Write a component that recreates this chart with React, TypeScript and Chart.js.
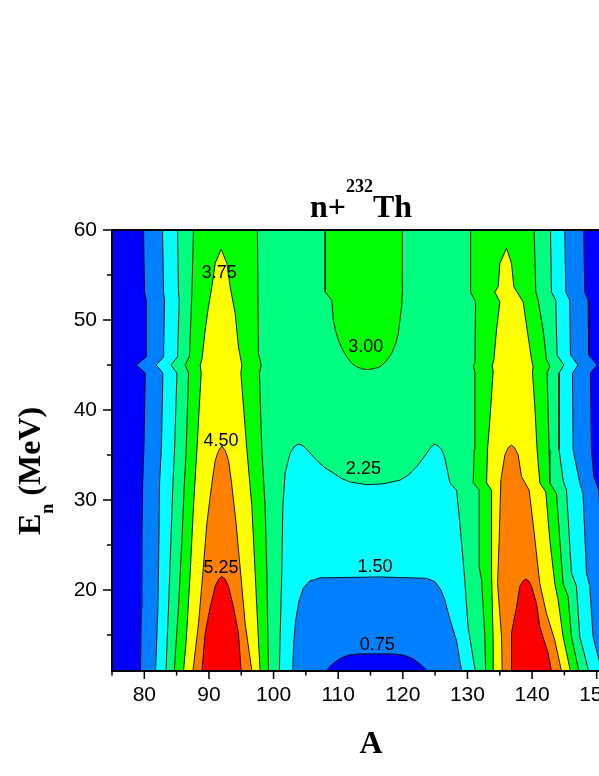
import React, { useEffect, useRef } from 'react';
import { Chart, registerables } from 'chart.js';

Chart.register(...registerables);

type P = [number, number];

// ---------- axis ticks ----------
const X_MAJOR = [80, 90, 100, 110, 120, 130, 140, 150];
const X_MINOR = [75, 85, 95, 105, 115, 125, 135, 145, 155];
const Y_MAJOR = [20, 30, 40, 50, 60];
const Y_MINOR = [15, 25, 35, 45, 55];

// ---------- contour levels and colours ----------
const LEVELS = [0.75, 1.5, 2.25, 3.0, 3.75, 4.5, 5.25];
const BASE_COLOR = '#0000FF';
const LEVEL_COLORS = ['#0080FF', '#00FFFF', '#00FF80', '#00FF00', '#FFFF00', '#FF8000', '#FF0000'];

// ---------- contour lines, [A, En] ----------
// 0.75 level
const c075Left: P[] = [[79.42, 11], [79.53, 18], [79.64, 25.6], [79.75, 31.9], [79.95, 36], [80.15, 44.1], [78.76, 45], [80.3, 45.9], [80.3, 52.2], [80.04, 53.1], [79.88, 60]];
const c075Right: P[] = [[148.0, 60], [148.15, 53.1], [148.67, 52.2], [148.77, 46.1], [150.06, 45], [149.03, 44.1], [149.19, 35.6], [149.55, 32.6], [150.32, 31.1], [151.0, 21.9], [151.5, 14.8], [152.6, 11]];
const c075Mid: P[] = [[108.12, 11], [109.0, 11.7], [110.2, 12.35], [111.5, 12.75], [113.4, 12.9], [118.5, 12.9], [120.2, 12.75], [121.6, 12.35], [122.8, 11.7], [123.84, 11]];
// 1.50 level
const c15Left: P[] = [[81.74, 11], [82.11, 18.1], [82.26, 25.6], [82.36, 31.9], [82.65, 36], [82.88, 44.1], [81.85, 45], [82.98, 45.9], [83.13, 52.2], [82.98, 53.1], [82.82, 60]];
const c15Right: P[] = [[145.06, 60], [145.22, 53.1], [145.83, 52.2], [145.94, 46.1], [147.12, 45], [146.25, 44.1], [146.35, 35.6], [147.38, 31.9], [147.89, 30.7], [148.42, 21.9], [148.93, 20.4], [149.44, 14.8], [150.8, 11]];
const c15Mid: P[] = [[102.97, 11], [103.1, 14], [103.4, 16.5], [103.9, 18.7], [104.6, 20.2], [105.6, 21.0], [107.2, 21.35], [116.5, 21.45], [123.7, 21.3], [125.0, 20.9], [125.9, 20.0], [126.5, 18.9], [127.3, 16.7], [128.3, 14.4], [129.1, 11]];
// 2.25 level
const c225Left: P[] = [[83.35, 11], [83.75, 18.1], [84.12, 25.6], [84.43, 31.9], [84.7, 36], [85.05, 44.1], [84.12, 45], [85.14, 45.9], [85.4, 52.2], [85.29, 53.1], [85.14, 60]];
const c225Right: P[] = [[142.85, 60], [143.0, 53.1], [143.67, 52.2], [143.87, 46.1], [144.91, 45], [144.18, 44.1], [144.18, 35.6], [144.8, 32.2], [145.32, 31.1], [146.1, 21.9], [146.87, 20.4], [147.38, 14.8], [148.77, 11]];
const c225Mid: P[] = [[100.91, 11], [101.0, 14.4], [101.27, 21.9], [101.43, 29.3], [101.79, 33.0], [102.56, 35.2], [103.3, 36.0], [103.84, 36.2], [104.4, 36.1], [104.88, 35.8], [105.8, 35.1], [106.69, 34.4], [107.9, 33.6], [109.25, 33.0], [110.5, 32.4], [111.83, 32.0], [114.41, 31.7], [116.98, 31.8], [119.56, 32.2], [120.9, 32.8], [122.14, 33.7], [123.3, 34.8], [124.2, 35.7], [124.6, 36.05], [124.97, 36.2], [125.5, 36.0], [126.0, 35.6], [126.45, 34.8], [126.78, 33.7], [127.29, 31.9], [128.32, 31.1], [128.83, 27.4], [129.5, 21.9], [130.1, 15.9], [131.2, 11]];
// 3.00 level
const c30LeftPeak: P[] = [[84.63, 11], [85.29, 18.1], [85.82, 25.6], [86.2, 31.9], [86.48, 35.6], [86.84, 44.1], [86.33, 45], [86.99, 46], [87.36, 53.1], [87.61, 60], [97.5, 60], [97.66, 46.3], [98.08, 45], [97.81, 44.1], [98.18, 35.6], [98.69, 29.3], [98.96, 21.9], [99.21, 11]];
const c30RightPeak: P[] = [[132.81, 11], [132.7, 14.8], [132.19, 21.1], [131.82, 22.6], [131.82, 31.1], [130.89, 31.9], [131.04, 35.6], [131.15, 44.2], [130.9, 44.9], [131.15, 45.2], [131.26, 52.0], [130.49, 53.1], [130.49, 60], [140.32, 60], [140.58, 53.1], [140.94, 52.2], [141.71, 48.9], [142.23, 45.6], [142.74, 44.9], [142.33, 44.1], [142.64, 35.6], [142.74, 31.9], [143.78, 30.7], [144.29, 25.6], [144.8, 20.7], [145.57, 19.3], [146.1, 14.8], [147.23, 11]];
const c30Mid: P[] = [[108.0, 60], [108.0, 53.1], [109.0, 52.2], [109.25, 50], [109.6, 48.8], [110.0, 47.8], [110.6, 46.8], [111.32, 45.9], [112.1, 45.2], [112.87, 44.8], [113.8, 44.55], [114.66, 44.5], [115.6, 44.6], [116.47, 44.8], [117.4, 45.4], [118.28, 46.3], [118.9, 47.4], [119.3, 48.5], [119.82, 51.5], [119.98, 53.7], [119.92, 60]];
// 3.75 level
const c375LeftPeak: P[] = [[86.07, 11], [86.48, 14.4], [87.1, 21.9], [87.61, 29.3], [88.14, 35.6], [88.8, 44.1], [88.65, 45], [88.91, 45.6], [89.42, 48.9], [89.93, 51.5], [90.46, 53.7], [90.97, 56.3], [91.89, 57.86], [92.77, 56.3], [93.28, 53.7], [94.06, 50.7], [94.57, 47.0], [95.09, 45], [94.94, 44.1], [95.87, 35.6], [96.64, 29.3], [97.15, 21.9], [97.66, 14.4], [97.92, 11]];
const c375RightPeak: P[] = [[134.09, 11], [133.98, 14.4], [133.73, 21.9], [133.73, 31.1], [132.96, 31.9], [133.11, 35.6], [133.47, 38.9], [133.98, 44.3], [133.83, 44.9], [134.09, 45.6], [134.5, 48.9], [135.02, 52.0], [134.24, 53.1], [134.76, 53.7], [135.02, 56.3], [136.05, 57.97], [136.82, 56.3], [137.18, 53.7], [137.69, 53.1], [138.62, 52.0], [139.24, 48.9], [139.92, 45.6], [140.16, 44.8], [140.07, 44.1], [140.43, 40.4], [140.78, 35.6], [141.2, 31.9], [142.13, 30.9], [142.74, 25.6], [143.52, 20.7], [144.03, 18.9], [144.8, 14.8], [145.94, 11]];
// 4.50 level
const c45LeftPeak: P[] = [[87.52, 11], [88.39, 16.3], [89.06, 21.9], [89.68, 27.4], [90.46, 31.9], [90.97, 34.4], [91.5, 35.5], [92.0, 36.0], [92.5, 35.5], [93.03, 34.4], [93.5, 31.9], [94.2, 27.4], [94.9, 21.9], [95.6, 16.3], [96.64, 11]];
const c45RightPeak: P[] = [[135.37, 11], [135.28, 14.8], [134.66, 20.7], [134.91, 25.6], [135.17, 32.2], [135.79, 35.0], [136.3, 35.8], [136.82, 36.1], [137.3, 35.8], [137.85, 35.0], [138.37, 32.6], [139.54, 31.1], [140.16, 27.4], [141.2, 20.7], [142.23, 17.4], [143.52, 14.4], [144.55, 11]];
// 5.25 level
const c525LeftPeak: P[] = [[88.91, 11], [89.42, 15.2], [90.19, 18.1], [90.97, 20.4], [91.5, 21.2], [92.0, 21.5], [92.5, 21.2], [93.03, 20.4], [93.8, 18.1], [94.57, 15.2], [94.98, 11]];
const c525RightPeak: P[] = [[136.82, 11], [136.82, 15.2], [137.6, 18.1], [138.1, 20.4], [138.6, 21.0], [139.03, 21.2], [139.5, 21.0], [139.92, 20.4], [140.69, 18.5], [141.2, 15.9], [142.48, 13], [143.01, 11]];

// ---------- contour labels ----------
const LABEL_TEXT = ['3.75', '4.50', '5.25', '3.00', '2.25', '1.50', '0.75'];
const LABEL_A = [91.6, 91.85, 91.85, 114.26, 113.9, 115.7, 116.05];
const LABEL_E = [55.2, 36.6, 22.4, 47.0, 33.4, 22.5, 13.9];

const rev = (a: P[]) => [...a].reverse();

const REGIONS: { lvl: number; pts: P[] }[] = [
  { lvl: 0, pts: [...c075Left, ...c075Right, ...rev(c075Mid)] },
  { lvl: 1, pts: [...c15Left, ...c15Right, ...rev(c15Mid)] },
  { lvl: 2, pts: [...c225Left, ...c225Right, ...rev(c225Mid)] },
  { lvl: 3, pts: c30LeftPeak },
  { lvl: 3, pts: c30RightPeak },
  { lvl: 3, pts: c30Mid },
  { lvl: 4, pts: c375LeftPeak },
  { lvl: 4, pts: c375RightPeak },
  { lvl: 5, pts: c45LeftPeak },
  { lvl: 5, pts: c45RightPeak },
  { lvl: 6, pts: c525LeftPeak },
  { lvl: 6, pts: c525RightPeak },
];

const W = 660;
const H = 776;
const PLOT_RIGHT = 629;

const polyFill = {
  id: 'polyFill',
  beforeDatasetsDraw(chart: any) {
    const { ctx, chartArea: a } = chart;
    ctx.save();
    ctx.fillStyle = BASE_COLOR;
    ctx.fillRect(a.left, a.top, a.right - a.left, a.bottom - a.top);
    ctx.restore();
  },
  beforeDatasetDraw(chart: any, args: any) {
    const ds = chart.data.datasets[args.index];
    if (!ds || !ds.polyColor) return;
    const { ctx, chartArea: a } = chart;
    const pts = args.meta.data;
    ctx.save();
    ctx.beginPath();
    ctx.rect(a.left, a.top, a.right - a.left, a.bottom - a.top);
    ctx.clip();
    ctx.beginPath();
    pts.forEach((p: any, i: number) => (i ? ctx.lineTo(p.x, p.y) : ctx.moveTo(p.x, p.y)));
    ctx.closePath();
    ctx.fillStyle = ds.polyColor;
    ctx.fill();
    ctx.restore();
  },
};

const decor = {
  id: 'decor',
  afterDatasetsDraw(chart: any) {
    const { ctx, chartArea: a, scales } = chart;
    const xs = scales.x;
    const ys = scales.y;
    ctx.save();
    // contour labels
    ctx.fillStyle = '#000';
    ctx.font = '18px "Liberation Sans", Arial, sans-serif';
    ctx.textAlign = 'center';
    ctx.textBaseline = 'middle';
    LABEL_TEXT.forEach((t, i) => {
      ctx.fillText(t, xs.getPixelForValue(LABEL_A[i]), ys.getPixelForValue(LABEL_E[i]));
    });
    // frame
    ctx.strokeStyle = '#000';
    ctx.lineWidth = 2;
    ctx.strokeRect(a.left, a.top, a.right - a.left, a.bottom - a.top);
    // tick marks
    ctx.lineWidth = 1.5;
    ctx.beginPath();
    X_MAJOR.forEach((v) => { const px = xs.getPixelForValue(v); ctx.moveTo(px, a.bottom); ctx.lineTo(px, a.bottom + 8); });
    X_MINOR.forEach((v) => { const px = xs.getPixelForValue(v); ctx.moveTo(px, a.bottom); ctx.lineTo(px, a.bottom + 4.5); });
    Y_MAJOR.forEach((v) => { const py = ys.getPixelForValue(v); ctx.moveTo(a.left, py); ctx.lineTo(a.left - 9, py); });
    Y_MINOR.forEach((v) => { const py = ys.getPixelForValue(v); ctx.moveTo(a.left, py); ctx.lineTo(a.left - 5, py); });
    ctx.stroke();
    ctx.restore();
  },
  afterDraw(chart: any) {
    const { ctx } = chart;
    ctx.save();
    ctx.fillStyle = '#000';
    ctx.textBaseline = 'alphabetic';
    ctx.textAlign = 'left';
    const big = 'bold 32px "Liberation Serif", "Times New Roman", serif';
    const sup = 'bold 18px "Liberation Serif", "Times New Roman", serif';
    // title n+232Th
    ctx.font = big;
    const w1 = ctx.measureText('n+').width;
    const w3 = ctx.measureText('Th').width;
    ctx.font = sup;
    const w2 = ctx.measureText('232').width;
    const total = w1 + w2 + w3;
    let x0 = 361 - total / 2;
    ctx.font = big;
    ctx.fillText('n+', x0, 217);
    ctx.font = sup;
    ctx.fillText('232', x0 + w1, 192);
    ctx.font = big;
    ctx.fillText('Th', x0 + w1 + w2, 217);
    // x title
    ctx.textAlign = 'center';
    ctx.fillText('A', 371, 753);
    // y title
    ctx.textAlign = 'left';
    ctx.translate(40, 535);
    ctx.rotate(-Math.PI / 2);
    ctx.font = big;
    const we = ctx.measureText('E').width;
    ctx.fillText('E', 0, 0);
    ctx.font = sup;
    const wn = ctx.measureText('n').width;
    ctx.fillText('n', we, 13);
    ctx.font = big;
    ctx.fillText(' (MeV)', we + wn, 0);
    ctx.restore();
  },
};

export default function App() {
  const ref = useRef<HTMLCanvasElement | null>(null);
  useEffect(() => {
    if (!ref.current) return;
    const datasets = REGIONS.map((r, i) => {
      const pts = [...r.pts, r.pts[0]];
      return {
        label: 'level ' + LEVELS[r.lvl],
        data: pts.map(([x, y]) => ({ x, y })),
        polyColor: LEVEL_COLORS[r.lvl],
        borderColor: '#000',
        borderWidth: 0.9,
        backgroundColor: LEVEL_COLORS[r.lvl],
        pointRadius: 0,
        pointHoverRadius: 0,
        fill: false,
        tension: 0,
        order: REGIONS.length - i,
      };
    });
    const chart = new Chart(ref.current, {
      type: 'line',
      data: { datasets } as any,
      options: {
        animation: false,
        responsive: false,
        devicePixelRatio: 1,
        events: [],
        layout: { padding: { top: 230, right: W - PLOT_RIGHT, left: 0, bottom: 0 } },
        plugins: { legend: { display: false }, tooltip: { enabled: false }, title: { display: false } },
        scales: {
          x: {
            type: 'linear',
            min: 75,
            max: 155,
            grid: { display: false, drawTicks: false },
            border: { display: false },
            afterBuildTicks: (s: any) => { s.ticks = X_MAJOR.map((v) => ({ value: v })); },
            afterFit: (s: any) => { s.height = H - 671; },
            ticks: { color: '#000', padding: 12, maxRotation: 0, autoSkip: false, font: { family: '"Liberation Sans", Arial, sans-serif', size: 21 } },
          },
          y: {
            type: 'linear',
            min: 11,
            max: 60,
            grid: { display: false, drawTicks: false },
            border: { display: false },
            afterBuildTicks: (s: any) => { s.ticks = Y_MAJOR.map((v) => ({ value: v })); },
            afterFit: (s: any) => { s.width = 112; },
            ticks: { color: '#000', padding: 15, autoSkip: false, font: { family: '"Liberation Sans", Arial, sans-serif', size: 21 } },
          },
        },
      } as any,
      plugins: [polyFill, decor],
    });
    return () => chart.destroy();
  }, []);
  return (
    <div style={{ position: 'fixed', left: 0, top: 0, width: 599, height: 776, overflow: 'hidden', background: '#fff' }}>
      <canvas ref={ref} width={W} height={H} style={{ display: 'block', width: W, height: H }} />
    </div>
  );
}
